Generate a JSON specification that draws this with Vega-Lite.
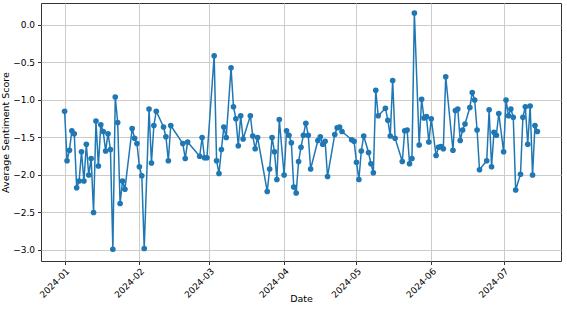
{
  "$schema": "https://vega.github.io/schema/vega-lite/v6.json",
  "width": 520,
  "height": 258,
  "autosize": {"type": "none"},
  "padding": {"left": 41, "top": 3, "right": 6, "bottom": 50},
  "background": "white",
  "config": {
    "view": {"stroke": "#333333", "strokeWidth": 1},
    "axis": {
      "labelFont": "DejaVu Sans",
      "titleFont": "DejaVu Sans",
      "labelFontSize": 9,
      "titleFontSize": 9.5,
      "titleFontWeight": "normal",
      "labelColor": "#000000",
      "titleColor": "#000000",
      "gridColor": "#cccccc",
      "gridWidth": 1,
      "domain": false,
      "tickColor": "#333333",
      "tickSize": 3.5
    }
  },
  "data": {"values": [
    {"date": "2024-01-01", "score": -1.15},
    {"date": "2024-01-02", "score": -1.81},
    {"date": "2024-01-03", "score": -1.67},
    {"date": "2024-01-04", "score": -1.41},
    {"date": "2024-01-05", "score": -1.45},
    {"date": "2024-01-06", "score": -2.17},
    {"date": "2024-01-07", "score": -2.08},
    {"date": "2024-01-08", "score": -1.69},
    {"date": "2024-01-09", "score": -2.08},
    {"date": "2024-01-10", "score": -1.59},
    {"date": "2024-01-11", "score": -2.00},
    {"date": "2024-01-12", "score": -1.78},
    {"date": "2024-01-13", "score": -2.50},
    {"date": "2024-01-14", "score": -1.28},
    {"date": "2024-01-15", "score": -1.88},
    {"date": "2024-01-16", "score": -1.33},
    {"date": "2024-01-17", "score": -1.42},
    {"date": "2024-01-18", "score": -1.68},
    {"date": "2024-01-19", "score": -1.45},
    {"date": "2024-01-20", "score": -1.66},
    {"date": "2024-01-21", "score": -2.99},
    {"date": "2024-01-22", "score": -0.96},
    {"date": "2024-01-23", "score": -1.30},
    {"date": "2024-01-24", "score": -2.38},
    {"date": "2024-01-25", "score": -2.08},
    {"date": "2024-01-26", "score": -2.19},
    {"date": "2024-01-29", "score": -1.38},
    {"date": "2024-01-30", "score": -1.51},
    {"date": "2024-01-31", "score": -1.58},
    {"date": "2024-02-01", "score": -1.89},
    {"date": "2024-02-02", "score": -2.01},
    {"date": "2024-02-03", "score": -2.98},
    {"date": "2024-02-05", "score": -1.12},
    {"date": "2024-02-06", "score": -1.84},
    {"date": "2024-02-07", "score": -1.34},
    {"date": "2024-02-08", "score": -1.15},
    {"date": "2024-02-11", "score": -1.36},
    {"date": "2024-02-12", "score": -1.49},
    {"date": "2024-02-13", "score": -1.81},
    {"date": "2024-02-14", "score": -1.34},
    {"date": "2024-02-19", "score": -1.58},
    {"date": "2024-02-20", "score": -1.78},
    {"date": "2024-02-21", "score": -1.56},
    {"date": "2024-02-26", "score": -1.75},
    {"date": "2024-02-27", "score": -1.50},
    {"date": "2024-02-28", "score": -1.77},
    {"date": "2024-02-29", "score": -1.77},
    {"date": "2024-03-03", "score": -0.41},
    {"date": "2024-03-04", "score": -1.81},
    {"date": "2024-03-05", "score": -1.98},
    {"date": "2024-03-06", "score": -1.66},
    {"date": "2024-03-07", "score": -1.36},
    {"date": "2024-03-08", "score": -1.50},
    {"date": "2024-03-10", "score": -0.57},
    {"date": "2024-03-11", "score": -1.09},
    {"date": "2024-03-12", "score": -1.25},
    {"date": "2024-03-13", "score": -1.61},
    {"date": "2024-03-14", "score": -1.21},
    {"date": "2024-03-15", "score": -1.52},
    {"date": "2024-03-18", "score": -1.21},
    {"date": "2024-03-19", "score": -1.48},
    {"date": "2024-03-20", "score": -1.65},
    {"date": "2024-03-21", "score": -1.50},
    {"date": "2024-03-25", "score": -2.22},
    {"date": "2024-03-26", "score": -1.92},
    {"date": "2024-03-27", "score": -1.50},
    {"date": "2024-03-28", "score": -1.69},
    {"date": "2024-03-29", "score": -2.06},
    {"date": "2024-03-30", "score": -1.26},
    {"date": "2024-04-01", "score": -2.00},
    {"date": "2024-04-02", "score": -1.41},
    {"date": "2024-04-03", "score": -1.47},
    {"date": "2024-04-04", "score": -1.57},
    {"date": "2024-04-05", "score": -2.16},
    {"date": "2024-04-06", "score": -2.24},
    {"date": "2024-04-07", "score": -1.82},
    {"date": "2024-04-08", "score": -1.63},
    {"date": "2024-04-09", "score": -1.47},
    {"date": "2024-04-10", "score": -1.31},
    {"date": "2024-04-11", "score": -1.47},
    {"date": "2024-04-12", "score": -1.92},
    {"date": "2024-04-15", "score": -1.54},
    {"date": "2024-04-16", "score": -1.49},
    {"date": "2024-04-17", "score": -1.59},
    {"date": "2024-04-18", "score": -1.55},
    {"date": "2024-04-19", "score": -2.02},
    {"date": "2024-04-22", "score": -1.46},
    {"date": "2024-04-23", "score": -1.37},
    {"date": "2024-04-24", "score": -1.36},
    {"date": "2024-04-25", "score": -1.42},
    {"date": "2024-04-29", "score": -1.53},
    {"date": "2024-04-30", "score": -1.55},
    {"date": "2024-05-01", "score": -1.83},
    {"date": "2024-05-02", "score": -2.06},
    {"date": "2024-05-03", "score": -1.68},
    {"date": "2024-05-04", "score": -1.48},
    {"date": "2024-05-06", "score": -1.70},
    {"date": "2024-05-07", "score": -1.85},
    {"date": "2024-05-08", "score": -1.97},
    {"date": "2024-05-09", "score": -0.87},
    {"date": "2024-05-10", "score": -1.21},
    {"date": "2024-05-13", "score": -1.11},
    {"date": "2024-05-14", "score": -1.27},
    {"date": "2024-05-15", "score": -1.48},
    {"date": "2024-05-16", "score": -0.74},
    {"date": "2024-05-17", "score": -1.51},
    {"date": "2024-05-20", "score": -1.82},
    {"date": "2024-05-21", "score": -1.41},
    {"date": "2024-05-22", "score": -1.40},
    {"date": "2024-05-23", "score": -1.85},
    {"date": "2024-05-24", "score": -1.78},
    {"date": "2024-05-25", "score": 0.16},
    {"date": "2024-05-27", "score": -1.60},
    {"date": "2024-05-28", "score": -0.99},
    {"date": "2024-05-29", "score": -1.24},
    {"date": "2024-05-30", "score": -1.22},
    {"date": "2024-05-31", "score": -1.56},
    {"date": "2024-06-01", "score": -1.25},
    {"date": "2024-06-03", "score": -1.74},
    {"date": "2024-06-04", "score": -1.63},
    {"date": "2024-06-05", "score": -1.62},
    {"date": "2024-06-06", "score": -1.65},
    {"date": "2024-06-07", "score": -0.69},
    {"date": "2024-06-10", "score": -1.67},
    {"date": "2024-06-11", "score": -1.14},
    {"date": "2024-06-12", "score": -1.12},
    {"date": "2024-06-13", "score": -1.54},
    {"date": "2024-06-14", "score": -1.40},
    {"date": "2024-06-15", "score": -1.32},
    {"date": "2024-06-17", "score": -1.10},
    {"date": "2024-06-18", "score": -0.90},
    {"date": "2024-06-19", "score": -1.00},
    {"date": "2024-06-20", "score": -1.40},
    {"date": "2024-06-21", "score": -1.93},
    {"date": "2024-06-24", "score": -1.81},
    {"date": "2024-06-25", "score": -1.13},
    {"date": "2024-06-26", "score": -1.89},
    {"date": "2024-06-27", "score": -1.43},
    {"date": "2024-06-28", "score": -1.47},
    {"date": "2024-06-29", "score": -1.18},
    {"date": "2024-07-01", "score": -1.69},
    {"date": "2024-07-02", "score": -1.00},
    {"date": "2024-07-03", "score": -1.21},
    {"date": "2024-07-04", "score": -1.12},
    {"date": "2024-07-05", "score": -1.23},
    {"date": "2024-07-06", "score": -2.20},
    {"date": "2024-07-08", "score": -1.99},
    {"date": "2024-07-09", "score": -1.23},
    {"date": "2024-07-10", "score": -1.09},
    {"date": "2024-07-11", "score": -1.59},
    {"date": "2024-07-12", "score": -1.08},
    {"date": "2024-07-13", "score": -2.00},
    {"date": "2024-07-14", "score": -1.34},
    {"date": "2024-07-15", "score": -1.42}
  ]},
  "mark": {
    "type": "line",
    "color": "#1f77b4",
    "strokeWidth": 1.5,
    "point": {"filled": true, "size": 32, "color": "#1f77b4", "opacity": 1}
  },
  "encoding": {
    "x": {
      "field": "date",
      "type": "temporal",
      "title": "Date",
      "scale": {
        "type": "utc",
        "domain": [
          {"year": 2023, "month": 12, "date": 22, "hours": 5, "utc": true},
          {"year": 2024, "month": 7, "date": 24, "hours": 19, "utc": true}
        ]
      },
      "axis": {
        "values": [
          {"year": 2024, "month": 1, "date": 1, "utc": true},
          {"year": 2024, "month": 2, "date": 1, "utc": true},
          {"year": 2024, "month": 3, "date": 1, "utc": true},
          {"year": 2024, "month": 4, "date": 1, "utc": true},
          {"year": 2024, "month": 5, "date": 1, "utc": true},
          {"year": 2024, "month": 6, "date": 1, "utc": true},
          {"year": 2024, "month": 7, "date": 1, "utc": true}
        ],
        "labelExpr": "utcFormat(datum.value, '%Y-%m')",
        "labelAngle": -45,
        "labelAlign": "right",
        "labelBaseline": "top",
        "labelPadding": 2,
        "titleY": 32,
        "titleBaseline": "top"
      }
    },
    "y": {
      "field": "score",
      "type": "quantitative",
      "title": "Average Sentiment Score",
      "scale": {"domain": [-3.147, 0.293], "nice": false, "zero": false},
      "axis": {
        "values": [0, -0.5, -1, -1.5, -2, -2.5, -3],
        "format": ".1f",
        "labelPadding": 3,
        "titlePadding": 2
      }
    }
  }
}
